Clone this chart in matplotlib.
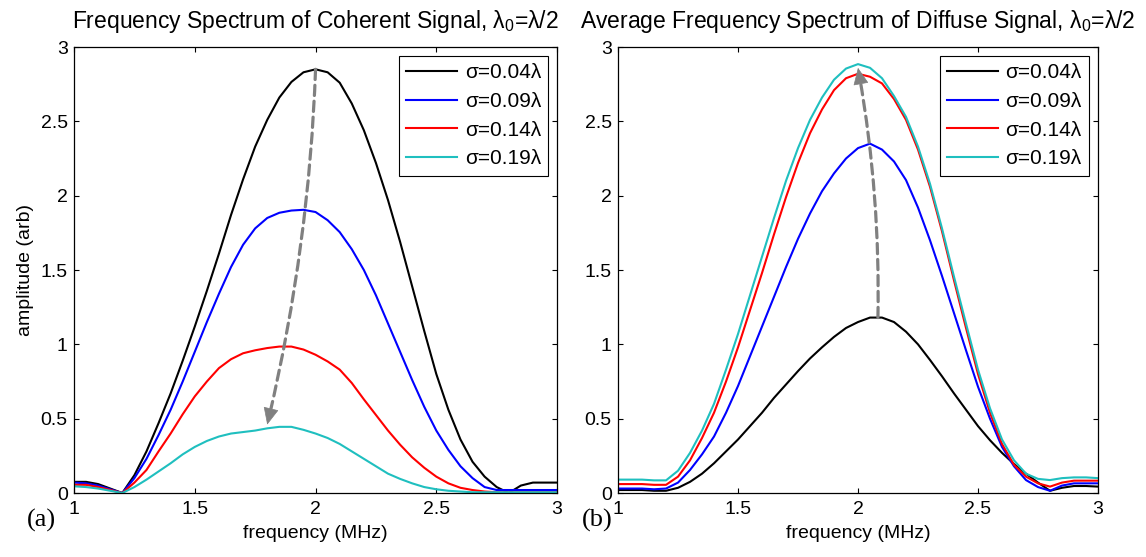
import numpy as np
import matplotlib
matplotlib.use("Agg")
import matplotlib.pyplot as plt

plt.rcParams["font.family"] = ["Liberation Sans", "DejaVu Sans"]
plt.rcParams["mathtext.fontset"] = "custom"
plt.rcParams["mathtext.rm"] = "Liberation Sans"
plt.rcParams["mathtext.it"] = "Liberation Sans"

freq = np.round(np.arange(1.0, 3.0001, 0.05), 2)

# panel (a): coherent spectrum
coh_004 = [0.075, 0.075, 0.06, 0.03, 0.00, 0.12, 0.28, 0.47, 0.67, 0.89, 1.12, 1.36, 1.61, 1.87,
           2.11, 2.33, 2.51, 2.66, 2.765, 2.83, 2.85, 2.83, 2.76, 2.62, 2.44, 2.22, 1.97, 1.69,
           1.39, 1.09, 0.80, 0.56, 0.36, 0.21, 0.11, 0.04, 0.00, 0.05, 0.07, 0.07, 0.07]
coh_009 = [0.07, 0.065, 0.05, 0.025, 0.00, 0.10, 0.23, 0.39, 0.56, 0.75, 0.95, 1.15, 1.34, 1.52,
           1.67, 1.78, 1.85, 1.885, 1.90, 1.905, 1.89, 1.835, 1.755, 1.64, 1.50, 1.33, 1.14, 0.95,
           0.76, 0.58, 0.42, 0.29, 0.18, 0.10, 0.04, 0.02, 0.02, 0.02, 0.02, 0.02, 0.02]
coh_014 = [0.055, 0.055, 0.04, 0.02, 0.00, 0.07, 0.155, 0.28, 0.40, 0.53, 0.65, 0.75, 0.84, 0.90,
           0.94, 0.96, 0.975, 0.985, 0.985, 0.965, 0.93, 0.885, 0.83, 0.74, 0.63, 0.525, 0.42,
           0.325, 0.24, 0.17, 0.11, 0.065, 0.035, 0.02, 0.01, 0.005, 0.005, 0.005, 0.005, 0.005, 0.005]
coh_019 = [0.045, 0.04, 0.03, 0.015, 0.00, 0.04, 0.09, 0.145, 0.20, 0.26, 0.31, 0.35, 0.38, 0.40,
           0.41, 0.42, 0.435, 0.445, 0.445, 0.425, 0.40, 0.37, 0.33, 0.28, 0.23, 0.18, 0.13,
           0.095, 0.065, 0.04, 0.025, 0.015, 0.01, 0.005, 0.005, 0.005, 0.005, 0.005, 0.005, 0.005, 0.005]

# panel (b): average diffuse spectrum
dif_004 = [0.02, 0.02, 0.02, 0.015, 0.015, 0.035, 0.075, 0.13, 0.20, 0.28, 0.36, 0.45, 0.54, 0.64,
           0.73, 0.82, 0.905, 0.98, 1.05, 1.11, 1.15, 1.18, 1.18, 1.15, 1.085, 1.00, 0.895, 0.785,
           0.67, 0.56, 0.45, 0.355, 0.27, 0.195, 0.13, 0.07, 0.015, 0.035, 0.047, 0.047, 0.043]
dif_009 = [0.03, 0.03, 0.03, 0.025, 0.03, 0.07, 0.155, 0.26, 0.38, 0.54, 0.72, 0.92, 1.12, 1.32,
           1.52, 1.71, 1.88, 2.03, 2.15, 2.25, 2.32, 2.35, 2.31, 2.23, 2.105, 1.92, 1.70, 1.46,
           1.21, 0.96, 0.715, 0.50, 0.31, 0.18, 0.087, 0.04, 0.015, 0.05, 0.065, 0.065, 0.065]
dif_014 = [0.06, 0.06, 0.06, 0.055, 0.055, 0.11, 0.22, 0.37, 0.54, 0.75, 0.98, 1.23, 1.48, 1.74,
           1.99, 2.22, 2.42, 2.58, 2.71, 2.79, 2.82, 2.80, 2.755, 2.65, 2.51, 2.31, 2.06, 1.76,
           1.43, 1.11, 0.80, 0.54, 0.33, 0.19, 0.11, 0.065, 0.043, 0.07, 0.083, 0.083, 0.083]
dif_019 = [0.09, 0.09, 0.09, 0.085, 0.085, 0.15, 0.27, 0.42, 0.60, 0.83, 1.07, 1.33, 1.59, 1.85,
           2.10, 2.32, 2.51, 2.66, 2.78, 2.855, 2.885, 2.86, 2.79, 2.67, 2.53, 2.33, 2.08, 1.78,
           1.455, 1.14, 0.83, 0.57, 0.36, 0.22, 0.13, 0.095, 0.087, 0.10, 0.105, 0.105, 0.10]

labels = ["σ=0.04λ", "σ=0.09λ", "σ=0.14λ", "σ=0.19λ"]
colors = ["#000000", "#0000ff", "#ff0000", "#1fbfbf"]

titles = ["Frequency Spectrum of Coherent Signal, λ$_0$=λ/2",
          "Average Frequency Spectrum of Diffuse Signal, λ$_0$=λ/2"]
panel_tags = ["(a)", "(b)"]

# trend arrows (start -> tip) in data units
arrow_a = ((2.0, 2.85), (1.80, 0.46))
arrow_b = ((2.083, 1.18), (2.0, 2.86))
GRAY = "#808080"


def trend_arrow(ax, start, tip, rad):
    # dashed curved shaft
    ax.annotate("", xy=tip, xytext=start,
                arrowprops=dict(arrowstyle="-", color=GRAY, lw=2.3, ls=(0, (3.2, 1.8)),
                                connectionstyle=f"arc3,rad={rad}", shrinkA=0, shrinkB=6))
    # solid head, aligned with the arc tangent at the tip
    p0 = ax.transData.transform(start)
    p1 = ax.transData.transform(tip)
    d = p1 - p0
    ctrl = (p0 + p1) / 2 + rad * np.array([d[1], -d[0]])
    u = (p1 - ctrl) / np.linalg.norm(p1 - ctrl)
    back = ax.transData.inverted().transform(p1 - 3 * u)
    ax.annotate("", xy=tip, xytext=back,
                arrowprops=dict(arrowstyle="-|>,head_length=0.55,head_width=0.25",
                                mutation_scale=20, color=GRAY, lw=0.5, shrinkA=0, shrinkB=0))


fig = plt.figure(figsize=(11.46, 5.57), dpi=100)
ax_a = fig.add_axes([0.0646, 0.1149, 0.4215, 0.8007])
ax_b = fig.add_axes([0.5393, 0.1149, 0.4188, 0.8007])

panels = [(ax_a, [coh_004, coh_009, coh_014, coh_019], arrow_a, -0.05),
          (ax_b, [dif_004, dif_009, dif_014, dif_019], arrow_b, 0.05)]

for i, (ax, series, arr, rad) in enumerate(panels):
    for ys, c, lab in zip(series, colors, labels):
        ax.plot(freq, ys, color=c, lw=1.5, label=lab)
    ax.set_xlim(1, 3)
    ax.set_ylim(0, 3)
    ax.set_xticks([1, 1.5, 2, 2.5, 3])
    ax.set_xticklabels(["1", "1.5", "2", "2.5", "3"])
    ax.set_yticks([0, 0.5, 1, 1.5, 2, 2.5, 3])
    ax.set_yticklabels(["0", "0.5", "1", "1.5", "2", "2.5", "3"])
    ax.tick_params(direction="in", length=3.6, width=0.8, top=True, right=True, labelsize=14)
    ax.tick_params(axis="x", pad=6)
    ax.tick_params(axis="y", pad=4.5)
    for sp in ax.spines.values():
        sp.set_linewidth(0.9)
    ax.set_title(titles[i], fontsize=16.5, pad=14)
    ax.set_xlabel("frequency (MHz)", fontsize=14, labelpad=5)
    trend_arrow(ax, arr[0], arr[1], rad)
    leg = ax.legend(loc="upper right", fontsize=15, frameon=True, fancybox=False,
                    edgecolor="black", framealpha=1, borderaxespad=0.42, borderpad=0.35,
                    handlelength=2.45, handletextpad=0.35, labelspacing=0.47)
    leg.get_frame().set_linewidth(0.8)

ax_a.set_ylabel("amplitude (arb)", fontsize=14, labelpad=5)

fig.text(41 / 1146, 1 - 520 / 557, panel_tags[0], family="Liberation Serif", fontsize=19,
         ha="center", va="center")
fig.text(597 / 1146, 1 - 520 / 557, panel_tags[1], family="Liberation Serif", fontsize=19,
         ha="center", va="center")

fig.savefig("out.png", dpi=100)
